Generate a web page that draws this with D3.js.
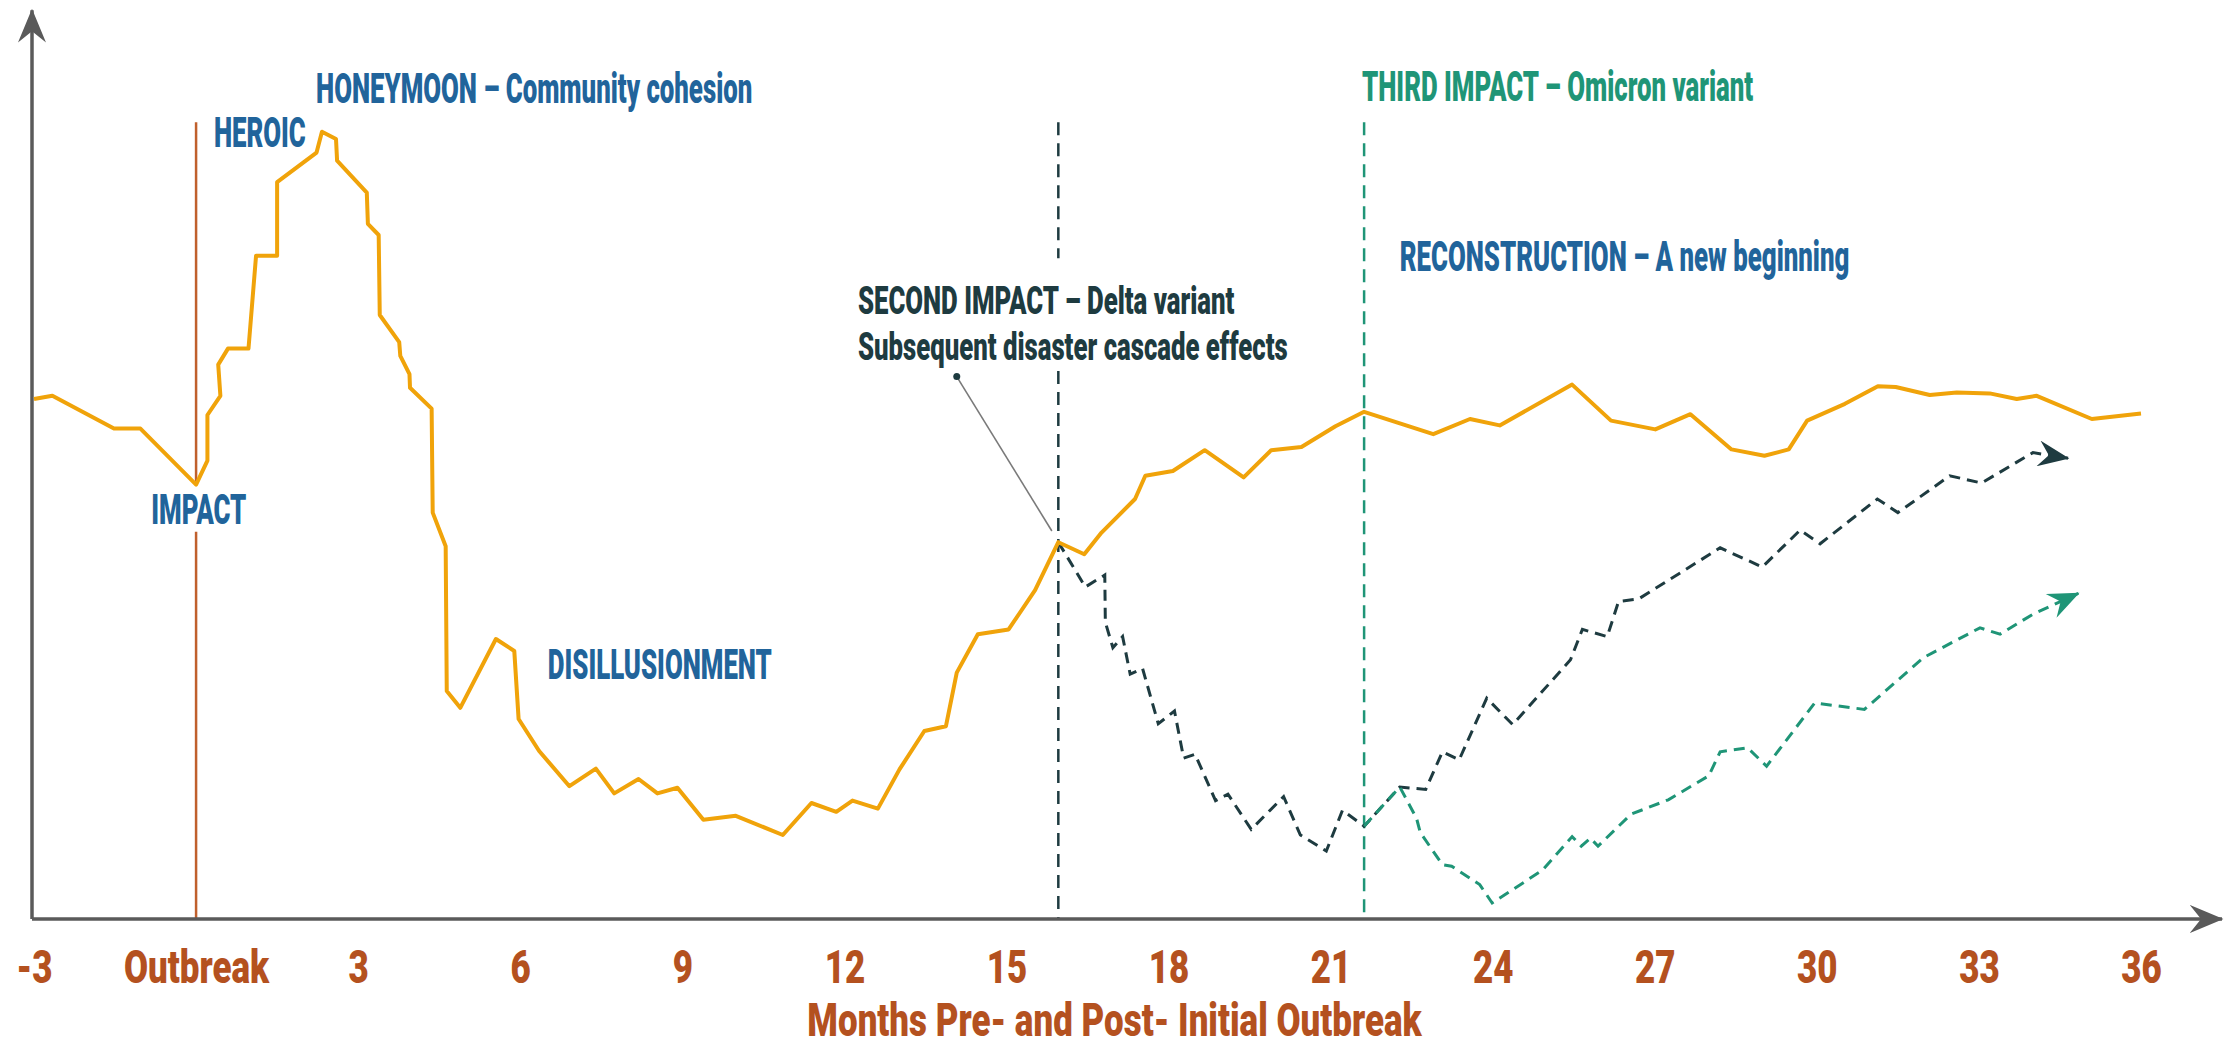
<!DOCTYPE html>
<html>
<head>
<meta charset="utf-8">
<script src="https://cdn.jsdelivr.net/npm/d3@7"></script>
<style>
  body { margin: 0; background: #fff; }
  text { font-family: Roboto, "Open Sans", sans-serif; font-weight: bold; }
</style>
</head>
<body>
<div id="chart"></div>
<script>
// ---- data (months since outbreak, relative level 0-100) ----
const tickMonths = [-3, 0, 3, 6, 9, 12, 15, 18, 21, 24, 27, 30, 33, 36];
const tickLabels = ['-3', 'Outbreak', '3', '6', '9', '12', '15', '18', '21', '24', '27', '30', '33', '36'];

// main recovery curve (solid orange)
const mainMonths = [-3, -2.66, -1.52, -1.03, 0, 0.21, 0.21, 0.45, 0.41, 0.59, 0.97, 1.11, 1.5, 1.5,
  2.23, 2.33, 2.59, 2.61, 3.16, 3.18, 3.38, 3.4, 3.76, 3.78, 3.95, 3.96, 4.36, 4.38, 4.62, 4.64,
  4.89, 5.55, 5.89, 5.97, 6.35, 6.91, 7.4, 7.74, 8.19, 8.54, 8.91, 9.39, 9.99, 10.86, 11.39, 11.85,
  12.15, 12.62, 13.02, 13.48, 13.88, 14.08, 14.47, 15.04, 15.53, 15.96, 16.44, 16.76, 17.38, 17.57,
  18.08, 18.67, 19.39, 19.9, 20.46, 21.09, 21.62, 22.9, 23.58, 24.13, 25.47, 26.19, 27.01, 27.66,
  28.42, 29.03, 29.48, 29.82, 30.52, 31.13, 31.46, 32.09, 32.59, 33.2, 33.7, 34.07, 35.09, 36];
const mainValues = [65.0, 65.4, 61.3, 61.3, 54.3, 57.3, 63.0, 65.4, 69.3, 71.3, 71.3, 82.9, 82.9, 92.1,
  95.8, 98.4, 97.5, 94.8, 90.8, 86.9, 85.5, 75.5, 72.1, 70.4, 68.1, 66.4, 63.8, 50.8, 46.6, 28.5,
  26.4, 35.0, 33.5, 25.0, 21.0, 16.6, 18.8, 15.7, 17.5, 15.7, 16.4, 12.4, 12.9, 10.5, 14.5, 13.4,
  14.8, 13.8, 18.7, 23.5, 24.1, 30.8, 35.6, 36.2, 41.1, 47.1, 45.6, 48.3, 52.5, 55.4,
  56.0, 58.6, 55.2, 58.6, 59.0, 61.6, 63.4, 60.6, 62.5, 61.7, 66.8, 62.3, 61.2, 63.1,
  58.7, 57.9, 58.7, 62.3, 64.4, 66.6, 66.5, 65.5, 65.8, 65.7, 65.0, 65.4, 62.5, 63.2];

// second impact branch (Delta, dark dashed)
const deltaMonths = [15.96, 16.46, 16.82, 16.83, 16.97, 17.15, 17.29, 17.52, 17.81, 18.11, 18.28, 18.49,
  18.87, 19.1, 19.53, 20.13, 20.44, 20.92, 21.22, 21.62, 22.28, 22.76, 23.07, 23.38, 23.89, 24.37,
  25.44, 25.66, 26.12, 26.33, 26.7, 28.21, 28.99, 29.69, 30.06, 31.12, 31.5, 32.46, 33.05, 34.0, 34.65];
const deltaValues = [47.1, 41.5, 43.0, 37.1, 33.9, 35.3, 30.6, 31.3, 24.4, 26.0, 20.1, 20.6,
  14.8, 15.6, 11.2, 15.3, 10.5, 8.5, 13.6, 11.6, 16.5, 16.2, 20.9, 19.9, 27.6, 24.3,
  32.4, 36.2, 35.3, 39.7, 40.0, 46.4, 44.0, 48.6, 46.9, 52.5, 50.8, 55.4, 54.5, 58.3, 57.6];

// third impact branch (Omicron, teal dashed)
const omicronMonths = [21.62, 22.28, 22.59, 22.66, 23.07, 23.24, 23.76, 23.99, 24.92, 25.47, 25.64, 25.81,
  25.95, 26.56, 27.25, 28.0, 28.21, 28.72, 29.07, 29.96, 30.88, 31.98, 33.02, 33.39, 34.0, 34.84];
const omicronValues = [11.6, 16.5, 12.6, 10.8, 6.8, 6.6, 4.3, 2.0, 6.1, 10.3, 9.1, 10.1,
  9.1, 13.1, 14.9, 17.9, 20.9, 21.4, 19.1, 27.0, 26.2, 32.7, 36.4, 35.6, 38.1, 40.7];

const outbreakMonth = 0;
const deltaMonth = 15.96;
const omicronMonth = 21.62;

// ---- colours ----
const C = {
  main: '#f0a30a', blue: '#21649b', dark: '#1e3b40', teal: '#1f9577',
  outbreak: '#c0602d', tick: '#b4511f', axis: '#5a5a5a', callout: '#7a7a7a'
};

const width = 2234, height = 1047;
const svg = d3.select('#chart').append('svg')
  .attr('width', width).attr('height', height);

const x = d3.scaleLinear().domain([-3, 36]).range([34, 2141]);
const y = d3.scaleLinear().domain([0, 100]).range([919, 119]);

const zip = (ms, vs) => ms.map((m, i) => ({ m, v: vs[i] }));
const line = d3.line().x(d => x(d.m)).y(d => y(d.v));

// arrow heads (notched)
const defs = svg.append('defs');
function marker(id, color, w, h) {
  defs.append('marker')
    .attr('id', id)
    .attr('viewBox', '0 0 12 10')
    .attr('refX', 11.5).attr('refY', 5)
    .attr('markerUnits', 'userSpaceOnUse')
    .attr('markerWidth', w).attr('markerHeight', h)
    .attr('orient', 'auto')
    .append('path')
    .attr('d', 'M0,0 L12,5 L0,10 L4,5 Z')
    .attr('fill', color);
}
marker('arrAxis', C.axis, 34, 28);
marker('arrDark', C.dark, 32, 26);
marker('arrTeal', C.teal, 32, 26);

// squeezed label helper (the source type is a very condensed face)
function label(text, m, v, color, opts = {}) {
  svg.append('text')
    .attr('transform', `translate(${x(m)},${y(v)}) scale(${opts.sx || 0.6},1)`)
    .attr('text-anchor', opts.anchor || 'start')
    .attr('fill', color)
    .style('font-size', (opts.size || 43) + 'px')
    .style('font-weight', 900)
    .text(text);
}

function vline(m, v1, v2, color, dash) {
  svg.append('line')
    .attr('x1', x(m)).attr('x2', x(m))
    .attr('y1', y(v1)).attr('y2', y(v2))
    .attr('stroke', color).attr('stroke-width', 2.5)
    .attr('stroke-dasharray', dash || null);
}

// event lines (broken where a label sits on them)
vline(outbreakMonth, 99.6, 54.3, C.outbreak);
vline(outbreakMonth, 48.4, 0, C.outbreak);
vline(deltaMonth, 99.6, 82.6, C.dark, '13,8');
vline(deltaMonth, 68.5, 0, C.dark, '13,8');
vline(omicronMonth, 99.6, 0, C.teal, '13,8');

// axes (arrowed lines)
svg.append('line')
  .attr('x1', x(-3) - 2).attr('x2', x(-3) - 2)
  .attr('y1', y(0)).attr('y2', y(113.6))
  .attr('stroke', C.axis).attr('stroke-width', 3.5)
  .attr('marker-end', 'url(#arrAxis)');
svg.append('line')
  .attr('x1', x(-3) - 2).attr('x2', x(37.5))
  .attr('y1', y(0)).attr('y2', y(0))
  .attr('stroke', C.axis).attr('stroke-width', 3.5)
  .attr('marker-end', 'url(#arrAxis)');

const xAxis = svg.append('g')
  .attr('transform', `translate(0,${y(0)})`)
  .call(d3.axisBottom(x).tickValues(tickMonths).tickFormat((d, i) => tickLabels[i]).tickSize(0));
xAxis.select('.domain').remove();
xAxis.selectAll('text')
  .attr('y', 64).attr('dy', 0)
  .attr('transform', 'scale(0.76,1)')
  .attr('fill', C.tick)
  .style('font-size', '46px')
  .style('font-family', 'Roboto, sans-serif')
  .style('font-weight', 900);

svg.append('text')
  .attr('transform', `translate(${x(17)},1036) scale(0.76,1)`)
  .attr('text-anchor', 'middle')
  .attr('fill', C.tick)
  .style('font-size', '46px')
  .style('font-weight', 900)
  .text('Months Pre- and Post- Initial Outbreak');

// series
svg.append('path')
  .datum(zip(deltaMonths, deltaValues))
  .attr('d', line)
  .attr('fill', 'none').attr('stroke', C.dark)
  .attr('stroke-width', 3).attr('stroke-dasharray', '11,7')
  .attr('marker-end', 'url(#arrDark)');

svg.append('path')
  .datum(zip(omicronMonths, omicronValues))
  .attr('d', line)
  .attr('fill', 'none').attr('stroke', C.teal)
  .attr('stroke-width', 3).attr('stroke-dasharray', '11,7')
  .attr('marker-end', 'url(#arrTeal)');

svg.append('path')
  .datum(zip(mainMonths, mainValues))
  .attr('d', line)
  .attr('fill', 'none').attr('stroke', C.main)
  .attr('stroke-width', 4).attr('stroke-linejoin', 'round');

// callout for the second impact
svg.append('line')
  .attr('x1', x(14.08)).attr('y1', y(67.8))
  .attr('x2', x(15.84)).attr('y2', y(48.5))
  .attr('stroke', C.callout).attr('stroke-width', 1.6);
svg.append('circle')
  .attr('cx', x(14.08)).attr('cy', y(67.8)).attr('r', 3.5)
  .attr('fill', C.dark);

// phase labels
label('HONEYMOON \u2013 Community cohesion', 2.22, 102, C.blue);
label('HEROIC', 0.33, 96.5, C.blue);
label('IMPACT', 0.05, 49.4, C.blue, { anchor: 'middle' });
label('DISILLUSIONMENT', 6.51, 30, C.blue);
label('SECOND IMPACT \u2013 Delta variant', 12.25, 75.6, C.dark, { size: 39, sx: 0.66 });
label('Subsequent disaster cascade effects', 12.25, 69.9, C.dark, { size: 39, sx: 0.66 });
label('THIRD IMPACT \u2013 Omicron variant', 21.58, 102.3, C.teal);
label('RECONSTRUCTION \u2013 A new beginning', 22.28, 81, C.blue);
</script>
</body>
</html>
